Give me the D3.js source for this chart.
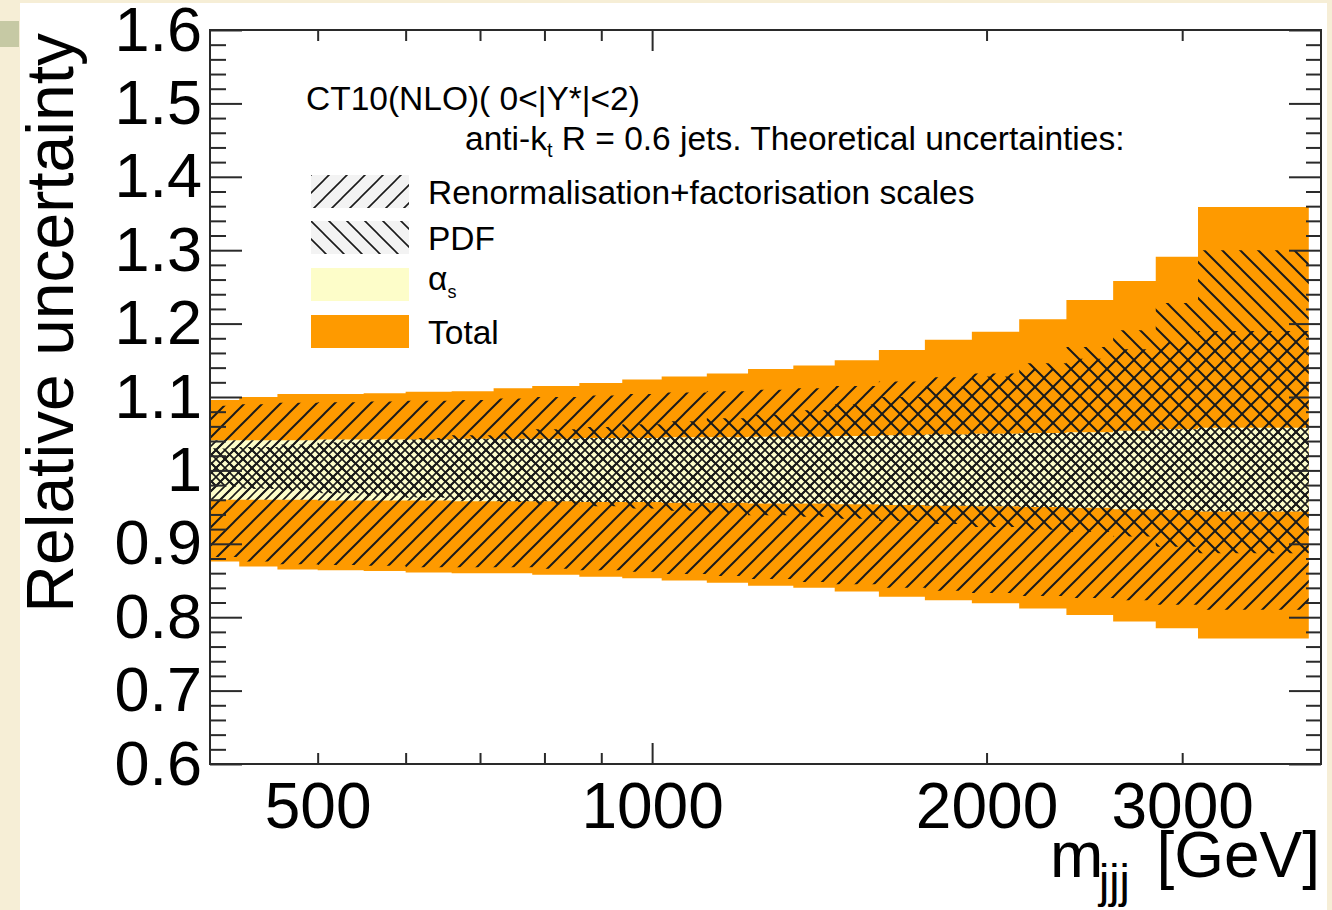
<!DOCTYPE html>
<html>
<head>
<meta charset="utf-8">
<script src="https://cdn.jsdelivr.net/npm/d3@7"></script>
<style>
  html, body { margin: 0; padding: 0; background: #f6eed6; }
  svg { display: block; font-family: "Liberation Sans", Arial, Helvetica, sans-serif; }
</style>
</head>
<body>
<svg id="chart" width="1332" height="910"></svg>
<script>
// m_jjj bin edges [GeV]
const binEdges = [400, 425, 460, 500, 550, 600, 660, 720, 780, 860, 940, 1020, 1120,
                  1220, 1340, 1460, 1600, 1760, 1940, 2140, 2360, 2600, 2840, 3100, 3900];

// relative uncertainty bands, one value per bin
const totalUp   = [1.096, 1.100, 1.104, 1.104, 1.105, 1.107, 1.108, 1.112, 1.115, 1.119, 1.124, 1.128,
                   1.132, 1.138, 1.143, 1.150, 1.164, 1.178, 1.189, 1.206, 1.232, 1.258, 1.291, 1.359];
const totalDown = [0.876, 0.869, 0.865, 0.864, 0.863, 0.861, 0.860, 0.860, 0.858, 0.855, 0.853, 0.850,
                   0.847, 0.843, 0.840, 0.835, 0.828, 0.823, 0.819, 0.812, 0.803, 0.794, 0.785, 0.771];
const scaleUp   = [1.088, 1.090, 1.092, 1.093, 1.094, 1.095, 1.096, 1.098, 1.100, 1.102, 1.104, 1.106,
                   1.108, 1.110, 1.112, 1.115, 1.121, 1.127, 1.132, 1.138, 1.152, 1.165, 1.175, 1.190];
const scaleDown = [0.882, 0.876, 0.872, 0.871, 0.870, 0.868, 0.868, 0.868, 0.866, 0.864, 0.862, 0.859,
                   0.856, 0.852, 0.848, 0.845, 0.840, 0.836, 0.833, 0.829, 0.826, 0.823, 0.817, 0.810];
const pdfUp     = [1.030, 1.032, 1.035, 1.038, 1.041, 1.044, 1.048, 1.052, 1.056, 1.059, 1.063, 1.067,
                   1.071, 1.076, 1.082, 1.090, 1.100, 1.114, 1.128, 1.146, 1.168, 1.191, 1.228, 1.300];
const pdfDown   = [0.978, 0.975, 0.972, 0.969, 0.966, 0.963, 0.960, 0.957, 0.954, 0.951, 0.948, 0.945,
                   0.942, 0.939, 0.937, 0.934, 0.931, 0.927, 0.923, 0.919, 0.916, 0.910, 0.896, 0.887];
const alphaUp   = [1.041, 1.041, 1.041, 1.042, 1.042, 1.042, 1.043, 1.043, 1.043, 1.044, 1.044, 1.045,
                   1.045, 1.046, 1.046, 1.047, 1.048, 1.049, 1.050, 1.051, 1.052, 1.054, 1.056, 1.058];
const alphaDown = [0.960, 0.960, 0.960, 0.959, 0.959, 0.959, 0.958, 0.958, 0.958, 0.957, 0.957, 0.956,
                   0.956, 0.955, 0.955, 0.954, 0.953, 0.952, 0.951, 0.950, 0.949, 0.947, 0.946, 0.944];

// axis ticks and labels
const yMajorTicks = [0.6, 0.7, 0.8, 0.9, 1.0, 1.1, 1.2, 1.3, 1.4, 1.5, 1.6];
const yTickLabels = ["0.6", "0.7", "0.8", "0.9", "1", "1.1", "1.2", "1.3", "1.4", "1.5", "1.6"];
const xMajorTicks = [1000];
const xMinorTicks = [500, 600, 700, 800, 900, 2000, 3000];
const xLabelTicks = [500, 1000, 2000, 3000];
const xTickLabels = ["500", "1000", "2000", "3000"];

const W = 1332, H = 910;
const frame = { left: 210, right: 1321, top: 30, bottom: 764 };
const ORANGE = "#fe9a00", YELLOW = "#fdfdc9", HATCH = "#1a1a1a";

const x = d3.scaleLog().domain([400, 4000]).range([frame.left, frame.right]);
const y = d3.scaleLinear().domain([0.6, 1.6]).range([frame.bottom, frame.top]);

const svg = d3.select("#chart");

// page background and white canvas
svg.append("rect").attr("width", W).attr("height", H).attr("fill", "#f6eed6");
svg.append("rect").attr("x", 0).attr("y", 21).attr("width", 19).attr("height", 26).attr("fill", "#c6c9a4");
svg.append("rect").attr("x", 20).attr("y", 3).attr("width", 1307).attr("height", 907).attr("fill", "#ffffff");

// hatch patterns: "fwd" = ///, "bwd" = \\\
const defs = svg.append("defs");
function hatch(id, P, dir, width) {
  const d = dir === "fwd"
    ? `M0,${P} L${P},0 M-2,2 L2,-2 M${P - 2},${P + 2} L${P + 2},${P - 2}`
    : `M0,0 L${P},${P} M${P - 2},-2 L${P + 2},2 M-2,${P - 2} L2,${P + 2}`;
  defs.append("pattern")
    .attr("id", id).attr("patternUnits", "userSpaceOnUse")
    .attr("width", P).attr("height", P)
    .append("path").attr("d", d)
    .attr("stroke", HATCH).attr("stroke-width", width).attr("fill", "none");
}
hatch("scaleHatch", 18, "fwd", 2.0);
hatch("pdfHatch", 18, "bwd", 2.0);
hatch("scaleHatchFine", 9, "fwd", 1.6);
hatch("pdfHatchFine", 9, "bwd", 1.6);
hatch("legScale", 18, "fwd", 1.6);
hatch("legPdf", 18, "bwd", 1.6);

defs.append("clipPath").attr("id", "frameClip")
  .append("rect").attr("x", frame.left).attr("y", frame.top)
  .attr("width", frame.right - frame.left).attr("height", frame.bottom - frame.top);

// step-shaped band points
function steps(lo, hi) {
  const pts = [];
  lo.forEach((l, i) => {
    const h = Math.max(hi[i], l);
    pts.push({ m: binEdges[i], lo: l, hi: h });
    pts.push({ m: binEdges[i + 1], lo: l, hi: h });
  });
  return pts;
}
const area = d3.area().x(d => x(d.m)).y0(d => y(d.lo)).y1(d => y(d.hi));

const bands = svg.append("g").attr("clip-path", "url(#frameClip)");
bands.append("path").attr("d", area(steps(totalDown, totalUp))).attr("fill", ORANGE);
bands.append("path").attr("d", area(steps(alphaDown, alphaUp))).attr("fill", YELLOW);
bands.append("path").attr("d", area(steps(scaleDown, scaleUp))).attr("fill", "url(#scaleHatch)");
bands.append("path").attr("d", area(steps(pdfDown, pdfUp))).attr("fill", "url(#pdfHatch)");

// overlap of the hatched bands with the alpha_s band is drawn denser
const overlapLo = (a, b) => a.map((v, i) => Math.max(v, b[i]));
const overlapHi = (a, b) => a.map((v, i) => Math.min(v, b[i]));
bands.append("path")
  .attr("d", area(steps(overlapLo(alphaDown, scaleDown), overlapHi(alphaUp, scaleUp))))
  .attr("fill", "url(#scaleHatchFine)");
bands.append("path")
  .attr("d", area(steps(overlapLo(alphaDown, pdfDown), overlapHi(alphaUp, pdfUp))))
  .attr("fill", "url(#pdfHatchFine)");

// axes
const yMinorTicks = d3.range(0.6, 1.6001, 0.02)
  .filter(v => !yMajorTicks.some(t => Math.abs(t - v) < 1e-6));

function styleAxis(g) {
  g.select(".domain").remove();
  g.selectAll(".tick line").attr("stroke", "#2a2a2a").attr("stroke-width", 2);
  g.selectAll("text").attr("fill", "#000")
    .attr("font-family", "'Liberation Sans', Arial, Helvetica, sans-serif");
}

const axes = svg.append("g");
axes.append("g").attr("transform", `translate(${frame.left},0)`)
  .call(d3.axisLeft(y).tickValues(yMajorTicks).tickSize(-32).tickPadding(8)
    .tickFormat((d, i) => yTickLabels[i]))
  .call(styleAxis)
  .call(g => g.selectAll("text").attr("font-size", 63));
axes.append("g").attr("transform", `translate(${frame.left},0)`)
  .call(d3.axisLeft(y).tickValues(yMinorTicks).tickSize(-16).tickFormat(""))
  .call(styleAxis);
axes.append("g").attr("transform", `translate(${frame.right},0)`)
  .call(d3.axisRight(y).tickValues(yMajorTicks).tickSize(-32).tickFormat(""))
  .call(styleAxis);
axes.append("g").attr("transform", `translate(${frame.right},0)`)
  .call(d3.axisRight(y).tickValues(yMinorTicks).tickSize(-15).tickFormat(""))
  .call(styleAxis);

axes.append("g").attr("transform", `translate(0,${frame.bottom})`)
  .call(d3.axisBottom(x).tickValues(xMajorTicks).tickSize(-21).tickFormat(""))
  .call(styleAxis);
axes.append("g").attr("transform", `translate(0,${frame.bottom})`)
  .call(d3.axisBottom(x).tickValues(xMinorTicks).tickSize(-11).tickFormat(""))
  .call(styleAxis);
axes.append("g").attr("transform", `translate(0,${frame.bottom})`)
  .call(d3.axisBottom(x).tickValues(xLabelTicks).tickSize(0).tickPadding(19)
    .tickFormat((d, i) => xTickLabels[i]))
  .call(styleAxis)
  .call(g => g.selectAll("text").attr("font-size", 64));
axes.append("g").attr("transform", `translate(0,${frame.top})`)
  .call(d3.axisTop(x).tickValues(xMajorTicks).tickSize(-21).tickFormat(""))
  .call(styleAxis);
axes.append("g").attr("transform", `translate(0,${frame.top})`)
  .call(d3.axisTop(x).tickValues(xMinorTicks).tickSize(-11).tickFormat(""))
  .call(styleAxis);

// frame
svg.append("rect")
  .attr("x", frame.left).attr("y", frame.top)
  .attr("width", frame.right - frame.left).attr("height", frame.bottom - frame.top)
  .attr("fill", "none").attr("stroke", "#2a2a2a").attr("stroke-width", 2);

// axis titles
svg.append("text")
  .attr("transform", `translate(73,${frame.top + 3}) rotate(-90)`)
  .attr("text-anchor", "end").attr("font-size", 66).attr("fill", "#000")
  .text("Relative uncertainty");

const xt = svg.append("g").attr("fill", "#000");
xt.append("text").attr("x", 1050).attr("y", 877).attr("font-size", 64).text("m");
xt.append("text").attr("x", 1099).attr("y", 897).attr("font-size", 46).text("jjj");
xt.append("text").attr("x", 1320).attr("y", 877).attr("text-anchor", "end").attr("font-size", 64).text("[GeV]");

// header text
const hdr = svg.append("g").attr("fill", "#000").attr("font-size", 33.5);
hdr.append("text").attr("x", 306).attr("y", 110).text("CT10(NLO)( 0<|Y*|<2)");
const l2 = hdr.append("text").attr("x", 465).attr("y", 150);
l2.append("tspan").text("anti-k");
l2.append("tspan").attr("font-size", 20).attr("dy", 7).text("t");
l2.append("tspan").attr("dy", -7).text(" R = 0.6 jets. Theoretical uncertainties:");

// legend
const legendItems = [
  { label: "Renormalisation+factorisation scales", fill: "url(#legScale)", bg: "#f3f3f3", y0: 175 },
  { label: "PDF", fill: "url(#legPdf)", bg: "#f3f3f3", y0: 221 },
  { label: "alpha", fill: YELLOW, bg: null, y0: 268 },
  { label: "Total", fill: ORANGE, bg: null, y0: 315 }
];
const leg = svg.append("g");
legendItems.forEach(it => {
  if (it.bg) {
    leg.append("rect").attr("x", 311).attr("y", it.y0).attr("width", 98).attr("height", 33).attr("fill", it.bg);
  }
  leg.append("rect").attr("x", 311).attr("y", it.y0).attr("width", 98).attr("height", 33).attr("fill", it.fill);
  const t = leg.append("text").attr("x", 428).attr("y", it.y0 + 29).attr("font-size", 33.5).attr("fill", "#000");
  if (it.label === "alpha") {
    t.attr("y", it.y0 + 22);
    t.append("tspan").text("α");
    t.append("tspan").attr("font-size", 18).attr("dy", 8).text("s");
  } else {
    t.text(it.label);
  }
});
</script>
</body>
</html>
